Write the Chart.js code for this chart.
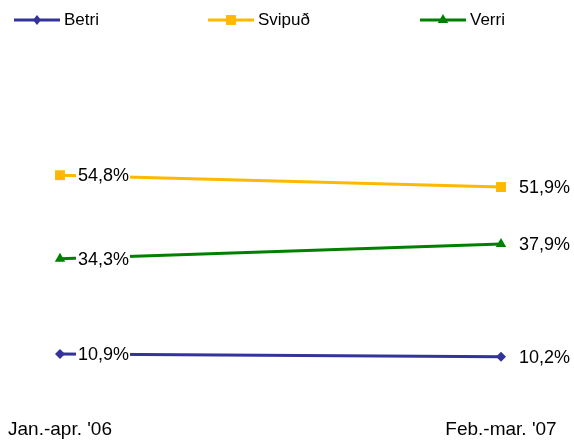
<!DOCTYPE html>
<html>
<head>
<meta charset="utf-8">
<script src="https://cdn.jsdelivr.net/npm/chart.js@4/dist/chart.umd.min.js"></script>
<style>
  html, body { margin: 0; padding: 0; background: #fff; }
  #myChart { display: block; }
</style>
</head>
<body>
<canvas id="myChart" width="574" height="442"></canvas>
<script>
const periods = ["Jan.-apr. '06", "Feb.-mar. '07"];
const betri = [10.9, 10.2];
const svipud = [54.8, 51.9];
const verri = [34.3, 37.9];

const FONT = '"Liberation Sans", Arial, sans-serif';

function fmt(v) {
    return v.toFixed(1).replace('.', ',') + '%';
}

function marker(ctx, style, x, y, r, col) {
    ctx.fillStyle = col;
    ctx.beginPath();
    if (style === 'rect') {
        const s = r * Math.SQRT1_2;
        ctx.rect(x - s, y - s, 2 * s, 2 * s);
    } else if (style === 'rectRot') {
        ctx.moveTo(x - r * 0.8, y);
        ctx.lineTo(x, y - r);
        ctx.lineTo(x + r * 0.8, y);
        ctx.lineTo(x, y + r);
    } else {
        const h = r * 1.5;
        ctx.moveTo(x, y - h * 2 / 3);
        ctx.lineTo(x + r * 0.87, y + h / 3);
        ctx.lineTo(x - r * 0.87, y + h / 3);
    }
    ctx.closePath();
    ctx.fill();
}

// legend: line + marker + name, drawn on top
const legendPlugin = {
    id: 'lineLegend',
    afterDraw(chart) {
        const ctx = chart.ctx;
        const starts = [14, 208, 420];
        ctx.save();
        chart.data.datasets.forEach((ds, i) => {
            const x = starts[i], y = 20;
            ctx.strokeStyle = ds.borderColor;
            ctx.lineWidth = 3;
            ctx.beginPath();
            ctx.moveTo(x, y);
            ctx.lineTo(x + 46, y);
            ctx.stroke();
            marker(ctx, ds.pointStyle, x + 23, y, ds.pointRadius, ds.borderColor);
            ctx.fillStyle = '#000';
            ctx.font = '17px ' + FONT;
            ctx.textBaseline = 'middle';
            ctx.textAlign = 'left';
            ctx.fillText(ds.label, x + 50, y);
        });
        ctx.restore();
    }
};

// value labels next to each point
const valuePlugin = {
    id: 'valueLabels',
    afterDatasetsDraw(chart) {
        const ctx = chart.ctx;
        ctx.save();
        ctx.font = '18px ' + FONT;
        ctx.textBaseline = 'middle';
        ctx.textAlign = 'left';
        chart.data.datasets.forEach((ds, i) => {
            chart.getDatasetMeta(i).data.forEach((pt, j) => {
                const txt = fmt(ds.data[j]);
                const x = pt.x + 18;
                const w = ctx.measureText(txt).width;
                if (j === 0) {
                    ctx.fillStyle = '#fff';
                    ctx.fillRect(x - 2, pt.y - 9, w + 3, 18);
                }
                ctx.fillStyle = '#000';
                ctx.fillText(txt, x, pt.y + 1);
            });
        });
        ctx.restore();
    }
};

new Chart(document.getElementById('myChart'), {
    type: 'line',
    data: {
        labels: periods,
        datasets: [
            { label: 'Betri', data: betri, borderColor: '#333399', backgroundColor: '#333399',
              pointStyle: 'rectRot', pointRadius: 5 },
            { label: 'Svipuð', data: svipud, borderColor: '#FFB800', backgroundColor: '#FFB800',
              pointStyle: 'rect', pointRadius: 7 },
            { label: 'Verri', data: verri, borderColor: '#008000', backgroundColor: '#008000',
              pointStyle: 'triangle', pointRadius: 6 }
        ].map(d => Object.assign(d, {
            borderWidth: 3,
            pointBorderWidth: 0,
            pointBackgroundColor: d.borderColor,
            clip: false,
            tension: 0
        }))
    },
    options: {
        responsive: false,
        animation: false,
        layout: { padding: { top: 40, left: 60, right: 73, bottom: 0 } },
        plugins: {
            legend: { display: false },
            tooltip: { enabled: false }
        },
        scales: {
            x: {
                offset: false,
                grid: { display: false, drawTicks: false },
                border: { display: false },
                ticks: { color: '#000', padding: 20, maxRotation: 0, font: { family: FONT, size: 19 } },
                afterFit(scale) {
                    scale.height = 43.6;
                    scale.paddingLeft = 0;
                    scale.paddingRight = 0;
                }
            },
            y: {
                display: false,
                min: 0,
                max: 88
            }
        }
    },
    plugins: [legendPlugin, valuePlugin]
});
</script>
</body>
</html>
